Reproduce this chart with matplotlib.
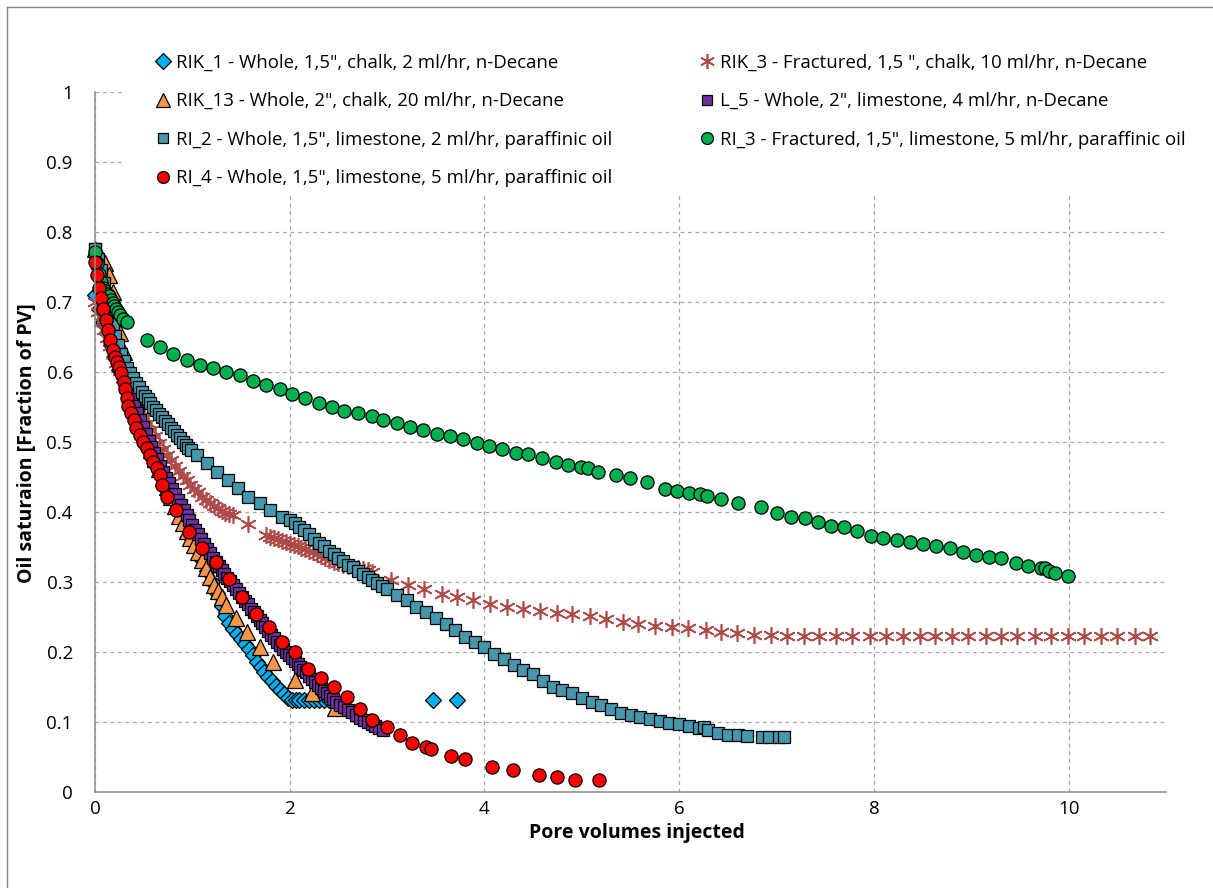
import matplotlib.pyplot as plt
from matplotlib.lines import Line2D
from matplotlib.patches import Rectangle

plt.rcParams['font.family'] = ['Open Sans', 'DejaVu Sans']

# Oil saturation vs. pore volumes injected, one series per core
rik1_pv = [0.00, 0.04, 0.08, 0.12, 0.16, 0.20, 0.25, 0.30, 0.35, 0.40, 0.45, 0.50, 0.55, 0.60, 0.65,
           0.70, 0.75, 0.80, 0.85, 0.90, 0.95, 1.00, 1.05, 1.10, 1.15, 1.20, 1.25, 1.30, 1.34, 1.38,
           1.42, 1.46, 1.50, 1.54, 1.58, 1.62, 1.66, 1.70, 1.74, 1.78, 1.82, 1.86, 1.90, 1.94, 1.98,
           2.02, 2.06, 2.10, 2.15, 2.20, 2.25, 2.30, 2.35, 2.40, 3.47, 3.72]
rik1_so = [0.710, 0.690, 0.672, 0.655, 0.638, 0.622, 0.603, 0.585, 0.567, 0.550, 0.533, 0.516, 0.500,
           0.484, 0.468, 0.452, 0.437, 0.422, 0.407, 0.392, 0.377, 0.362, 0.347, 0.332, 0.316, 0.300,
           0.284, 0.266, 0.252, 0.242, 0.233, 0.226, 0.219, 0.211, 0.204, 0.196, 0.186, 0.178, 0.171,
           0.165, 0.159, 0.152, 0.146, 0.140, 0.134, 0.131, 0.131, 0.131, 0.131, 0.131, 0.131, 0.131,
           0.131, 0.131, 0.132, 0.132]

rik3_pv = [0.00, 0.03, 0.06, 0.09, 0.12, 0.15, 0.18, 0.22, 0.26, 0.30, 0.34, 0.38, 0.42, 0.46, 0.50,
           0.54, 0.58, 0.62, 0.66, 0.70, 0.74, 0.78, 0.82, 0.86, 0.90, 0.94, 0.98, 1.02, 1.06, 1.10,
           1.14, 1.18, 1.22, 1.26, 1.30, 1.34, 1.38, 1.42, 1.57, 1.76, 1.80, 1.84, 1.88, 1.92, 1.96,
           2.00, 2.04, 2.08, 2.12, 2.16, 2.20, 2.24, 2.28, 2.32, 2.36, 2.40, 2.45, 2.50, 2.55, 2.60,
           2.65, 2.70, 2.75, 2.80, 2.85, 3.04, 3.21, 3.38, 3.56, 3.72, 3.88, 4.06, 4.23, 4.40, 4.57,
           4.74, 4.90, 5.08, 5.25, 5.42, 5.58, 5.75, 5.93, 6.09, 6.28, 6.43, 6.59, 6.77, 6.94, 7.11,
           7.28, 7.44, 7.61, 7.78, 7.96, 8.12, 8.30, 8.47, 8.63, 8.80, 8.97, 9.15, 9.31, 9.47, 9.65,
           9.82, 9.99, 10.16, 10.33, 10.50, 10.68, 10.84]
rik3_so = [0.700, 0.685, 0.672, 0.660, 0.648, 0.637, 0.626, 0.613, 0.601, 0.590, 0.578, 0.567, 0.557,
           0.546, 0.536, 0.527, 0.517, 0.508, 0.499, 0.490, 0.482, 0.474, 0.466, 0.458, 0.451, 0.445,
           0.439, 0.433, 0.428, 0.422, 0.417, 0.413, 0.409, 0.405, 0.402, 0.399, 0.397, 0.396, 0.383,
           0.367, 0.365, 0.363, 0.361, 0.359, 0.357, 0.355, 0.353, 0.351, 0.349, 0.347, 0.345, 0.343,
           0.340, 0.337, 0.334, 0.331, 0.329, 0.327, 0.325, 0.323, 0.322, 0.320, 0.319, 0.317, 0.315,
           0.303, 0.296, 0.290, 0.283, 0.279, 0.274, 0.269, 0.264, 0.261, 0.259, 0.256, 0.254, 0.251,
           0.247, 0.243, 0.240, 0.237, 0.236, 0.234, 0.232, 0.229, 0.227, 0.225, 0.224, 0.223, 0.223,
           0.223, 0.223, 0.223, 0.223, 0.223, 0.223, 0.223, 0.223, 0.223, 0.223, 0.223, 0.223, 0.223,
           0.223, 0.223, 0.223, 0.223, 0.223, 0.223, 0.223, 0.223]

rik13_pv = [0.00, 0.03, 0.06, 0.10, 0.14, 0.18, 0.22, 0.26, 0.30, 0.34, 0.38, 0.42, 0.46, 0.50, 0.54,
            0.58, 0.62, 0.66, 0.70, 0.74, 0.78, 0.82, 0.86, 0.90, 0.94, 0.98, 1.02, 1.06, 1.10, 1.14,
            1.18, 1.22, 1.26, 1.30, 1.35, 1.45, 1.56, 1.69, 1.83, 2.05, 2.23, 2.46]
rik13_so = [0.775, 0.770, 0.764, 0.755, 0.738, 0.714, 0.685, 0.655, 0.628, 0.603, 0.580, 0.556, 0.535,
            0.515, 0.502, 0.489, 0.476, 0.462, 0.449, 0.435, 0.422, 0.408, 0.395, 0.384, 0.373, 0.363,
            0.353, 0.343, 0.332, 0.320, 0.307, 0.296, 0.287, 0.278, 0.267, 0.248, 0.229, 0.207, 0.186,
            0.160, 0.141, 0.120]

l5_pv = [0.00, 0.02, 0.04, 0.06, 0.08, 0.10, 0.13, 0.16, 0.19, 0.22, 0.25, 0.28, 0.31, 0.34, 0.37,
         0.40, 0.43, 0.46, 0.49, 0.52, 0.55, 0.58, 0.61, 0.64, 0.67, 0.70, 0.73, 0.76, 0.79, 0.82,
         0.85, 0.88, 0.91, 0.94, 0.97, 1.00, 1.03, 1.06, 1.09, 1.12, 1.15, 1.18, 1.21, 1.24, 1.27,
         1.30, 1.33, 1.36, 1.39, 1.42, 1.45, 1.48, 1.51, 1.54, 1.57, 1.60, 1.63, 1.66, 1.69, 1.72,
         1.75, 1.78, 1.81, 1.84, 1.87, 1.90, 1.93, 1.96, 1.99, 2.02, 2.05, 2.08, 2.11, 2.14, 2.17,
         2.20, 2.23, 2.26, 2.29, 2.32, 2.35, 2.38, 2.41, 2.44, 2.48, 2.52, 2.56, 2.60, 2.64, 2.68,
         2.72, 2.76, 2.80, 2.84, 2.88, 2.92, 2.96]
l5_so = [0.775, 0.755, 0.738, 0.722, 0.707, 0.693, 0.674, 0.656, 0.640, 0.625, 0.611, 0.598, 0.585,
         0.573, 0.562, 0.551, 0.541, 0.531, 0.521, 0.511, 0.502, 0.493, 0.484, 0.475, 0.466, 0.457,
         0.449, 0.441, 0.433, 0.425, 0.417, 0.410, 0.403, 0.396, 0.389, 0.382, 0.375, 0.368, 0.361,
         0.354, 0.347, 0.341, 0.335, 0.329, 0.323, 0.317, 0.312, 0.306, 0.301, 0.296, 0.290, 0.284,
         0.279, 0.273, 0.268, 0.262, 0.257, 0.251, 0.246, 0.241, 0.236, 0.230, 0.225, 0.220, 0.215,
         0.210, 0.205, 0.200, 0.196, 0.192, 0.187, 0.183, 0.179, 0.175, 0.171, 0.166, 0.162, 0.157,
         0.153, 0.149, 0.145, 0.141, 0.137, 0.133, 0.129, 0.125, 0.121, 0.117, 0.114, 0.110, 0.106,
         0.103, 0.100, 0.097, 0.094, 0.091, 0.089]

ri2_pv = [0.00, 0.03, 0.06, 0.09, 0.12, 0.15, 0.18, 0.21, 0.24, 0.27, 0.30, 0.33, 0.36, 0.39, 0.42,
          0.45, 0.48, 0.51, 0.54, 0.57, 0.60, 0.63, 0.66, 0.69, 0.72, 0.75, 0.78, 0.81, 0.84, 0.87,
          0.90, 0.93, 0.96, 0.99, 1.05, 1.15, 1.25, 1.37, 1.47, 1.57, 1.69, 1.80, 1.92, 2.00, 2.05,
          2.10, 2.15, 2.20, 2.25, 2.30, 2.35, 2.40, 2.45, 2.50, 2.55, 2.60, 2.65, 2.70, 2.75, 2.80,
          2.85, 2.90, 2.95, 3.00, 3.10, 3.20, 3.30, 3.40, 3.50, 3.60, 3.70, 3.80, 3.90, 4.00, 4.10,
          4.20, 4.30, 4.40, 4.50, 4.60, 4.70, 4.80, 4.90, 5.00, 5.10, 5.20, 5.30, 5.40, 5.50, 5.60,
          5.70, 5.80, 5.90, 6.00, 6.10, 6.20, 6.25, 6.30, 6.40, 6.50, 6.60, 6.70, 6.85, 6.92, 7.03,
          7.08]
ri2_so = [0.775, 0.762, 0.745, 0.727, 0.708, 0.688, 0.668, 0.652, 0.638, 0.626, 0.616, 0.606, 0.598,
          0.591, 0.584, 0.578, 0.572, 0.566, 0.561, 0.555, 0.550, 0.545, 0.540, 0.535, 0.530, 0.525,
          0.520, 0.515, 0.510, 0.505, 0.500, 0.496, 0.492, 0.488, 0.481, 0.470, 0.457, 0.446, 0.434,
          0.422, 0.413, 0.403, 0.393, 0.389, 0.384, 0.379, 0.374, 0.368, 0.362, 0.356, 0.351, 0.345,
          0.340, 0.334, 0.330, 0.325, 0.321, 0.316, 0.312, 0.307, 0.303, 0.298, 0.294, 0.290, 0.281,
          0.274, 0.264, 0.257, 0.248, 0.240, 0.231, 0.222, 0.215, 0.207, 0.197, 0.190, 0.181, 0.174,
          0.168, 0.158, 0.150, 0.146, 0.141, 0.135, 0.129, 0.124, 0.118, 0.113, 0.110, 0.107, 0.104,
          0.101, 0.099, 0.097, 0.094, 0.092, 0.093, 0.088, 0.085, 0.082, 0.081, 0.080, 0.079, 0.079,
          0.079, 0.078]

ri3_pv = [0.00, 0.02, 0.04, 0.06, 0.08, 0.10, 0.12, 0.14, 0.16, 0.18, 0.20, 0.22, 0.24, 0.26, 0.29,
          0.33, 0.53, 0.67, 0.80, 0.94, 1.08, 1.21, 1.35, 1.49, 1.62, 1.76, 1.90, 2.02, 2.16, 2.30,
          2.43, 2.56, 2.70, 2.84, 2.96, 3.10, 3.24, 3.37, 3.51, 3.65, 3.78, 3.92, 4.05, 4.18, 4.32,
          4.45, 4.59, 4.73, 4.86, 4.99, 5.06, 5.17, 5.35, 5.49, 5.67, 5.85, 5.98, 6.10, 6.21, 6.29,
          6.43, 6.60, 6.84, 7.00, 7.15, 7.29, 7.43, 7.56, 7.69, 7.83, 7.97, 8.09, 8.24, 8.37, 8.50,
          8.64, 8.78, 8.91, 9.05, 9.18, 9.31, 9.46, 9.58, 9.72, 9.76, 9.80, 9.86, 9.99]
ri3_so = [0.772, 0.755, 0.740, 0.728, 0.720, 0.716, 0.712, 0.708, 0.703, 0.698, 0.694, 0.690, 0.686,
          0.682, 0.676, 0.671, 0.645, 0.636, 0.625, 0.617, 0.610, 0.605, 0.600, 0.596, 0.587, 0.581,
          0.576, 0.569, 0.563, 0.556, 0.550, 0.544, 0.541, 0.537, 0.531, 0.527, 0.521, 0.517, 0.511,
          0.509, 0.504, 0.499, 0.494, 0.490, 0.484, 0.483, 0.477, 0.471, 0.467, 0.464, 0.463, 0.457,
          0.453, 0.449, 0.443, 0.433, 0.430, 0.427, 0.426, 0.423, 0.419, 0.413, 0.407, 0.399, 0.393,
          0.391, 0.386, 0.380, 0.379, 0.373, 0.366, 0.363, 0.360, 0.357, 0.354, 0.351, 0.348, 0.343,
          0.339, 0.336, 0.334, 0.327, 0.323, 0.320, 0.320, 0.316, 0.313, 0.309]

ri4_pv = [0.00, 0.02, 0.04, 0.06, 0.08, 0.11, 0.13, 0.15, 0.18, 0.21, 0.23, 0.25, 0.27, 0.30, 0.31,
          0.33, 0.34, 0.37, 0.40, 0.42, 0.46, 0.49, 0.53, 0.56, 0.60, 0.64, 0.67, 0.69, 0.74, 0.83,
          0.97, 1.10, 1.24, 1.38, 1.51, 1.65, 1.79, 1.92, 2.05, 2.19, 2.32, 2.45, 2.59, 2.72, 2.85,
          3.00, 3.13, 3.26, 3.40, 3.45, 3.66, 3.80, 4.08, 4.29, 4.56, 4.74, 4.93, 5.18]
ri4_so = [0.757, 0.739, 0.720, 0.706, 0.690, 0.674, 0.660, 0.646, 0.631, 0.621, 0.614, 0.607, 0.598,
          0.586, 0.575, 0.563, 0.551, 0.541, 0.531, 0.520, 0.510, 0.500, 0.491, 0.481, 0.471, 0.463,
          0.453, 0.439, 0.422, 0.403, 0.372, 0.349, 0.329, 0.304, 0.279, 0.254, 0.236, 0.214, 0.200,
          0.176, 0.163, 0.150, 0.136, 0.118, 0.103, 0.093, 0.081, 0.070, 0.064, 0.061, 0.051, 0.047,
          0.036, 0.031, 0.024, 0.022, 0.017, 0.017]

labels = {
    'rik1': 'RIK_1 - Whole, 1,5", chalk, 2 ml/hr, n-Decane',
    'rik3': 'RIK_3 - Fractured, 1,5 ", chalk, 10 ml/hr, n-Decane',
    'rik13': 'RIK_13 - Whole, 2", chalk, 20 ml/hr, n-Decane',
    'l5': 'L_5 - Whole, 2", limestone, 4 ml/hr, n-Decane',
    'ri2': 'RI_2 - Whole, 1,5", limestone, 2 ml/hr, paraffinic oil',
    'ri3': 'RI_3 - Fractured, 1,5", limestone, 5 ml/hr, paraffinic oil',
    'ri4': 'RI_4 - Whole, 1,5", limestone, 5 ml/hr, paraffinic oil',
}

edge = dict(markeredgecolor='black', markeredgewidth=0.9)
series = [
    ('rik1', rik1_pv, rik1_so, dict(marker='D', markersize=8.5, markerfacecolor='#00B0F0', **edge)),
    ('rik3', rik3_pv, rik3_so, dict(marker=(6, 2, 0), markersize=12, markeredgecolor='#AC4B47',
                                    markeredgewidth=1.2)),
    ('rik13', rik13_pv, rik13_so, dict(marker='^', markersize=11, markerfacecolor='#F79646', **edge)),
    ('l5', l5_pv, l5_so, dict(marker='s', markersize=8, markerfacecolor='#7030A0', **edge)),
    ('ri2', ri2_pv, ri2_so, dict(marker='s', markersize=8.3, markerfacecolor='#4597AE', **edge)),
    ('ri3', ri3_pv, ri3_so, dict(marker='o', markersize=9.5, markerfacecolor='#00B050', **edge)),
    ('ri4', ri4_pv, ri4_so, dict(marker='o', markersize=9.5, markerfacecolor='#FF0000', **edge)),
]

W, H = 1213, 888
fig = plt.figure(figsize=(W / 100, H / 100), dpi=100)
ax = fig.add_axes([95 / W, 1 - 792 / H, (1166 - 95) / W, (792 - 92) / H])

handles = {}
for key, x, y, style in series:
    h, = ax.plot(x, y, linestyle='none', clip_on=False, label=labels[key], **style)
    handles[key] = h

ax.set_xlim(0, 11)
ax.set_ylim(0, 1)
ax.set_xticks([0, 2, 4, 6, 8, 10])
ax.set_yticks([i / 10 for i in range(11)])
ax.set_yticklabels(['0', '0.1', '0.2', '0.3', '0.4', '0.5', '0.6', '0.7', '0.8', '0.9', '1'])
ax.tick_params(axis='both', length=0, labelsize=13.5, colors='black')
ax.tick_params(axis='y', pad=16)
ax.tick_params(axis='x', pad=6)

ax.set_axisbelow(True)
ax.grid(True, color='#A6A6A6', linestyle=(0, (3, 3)), linewidth=0.9)
for side in ['top', 'right']:
    ax.spines[side].set_visible(False)
for side in ['left', 'bottom']:
    ax.spines[side].set_color('#8C8C8C')
    ax.spines[side].set_linewidth(1.1)

fig.text(27 / W, 1 - 443 / H, 'Oil saturaion [Fraction of PV]', rotation=90,
         ha='center', va='center', fontsize=14, fontweight='bold')
fig.text(637 / W, 1 - 833 / H, 'Pore volumes injected',
         ha='center', va='center', fontsize=14, fontweight='bold')

# white block behind the legend hides the gridlines there
fig.add_artist(Rectangle((125 / W, 1 - 193 / H), (1190 - 125) / W, (193 - 40) / H,
                         transform=fig.transFigure, facecolor='white', edgecolor='none', zorder=1))

leg_kw = dict(loc='upper left', frameon=False, borderpad=0, borderaxespad=0,
              handlelength=0.75, handletextpad=0.3, labelspacing=1.11, fontsize=13.4,
              markerscale=0.9)
leg1 = fig.legend(handles=[handles[k] for k in ['rik1', 'rik13', 'ri2', 'ri4']],
                  bbox_to_anchor=(156 / W, 1 - 53.5 / H), **leg_kw)
leg2 = fig.legend(handles=[handles[k] for k in ['rik3', 'l5', 'ri3']],
                  bbox_to_anchor=(700 / W, 1 - 53.5 / H), **leg_kw)
leg1.set_zorder(5)
leg2.set_zorder(5)

# chart area border
fig.add_artist(Line2D([7 / W, 7 / W], [0, 1 - 7 / H], transform=fig.transFigure,
                      color='#868686', linewidth=1.0))
fig.add_artist(Line2D([7 / W, 1], [1 - 7 / H, 1 - 7 / H], transform=fig.transFigure,
                      color='#868686', linewidth=1.0))

fig.savefig('out.png', dpi=100)
